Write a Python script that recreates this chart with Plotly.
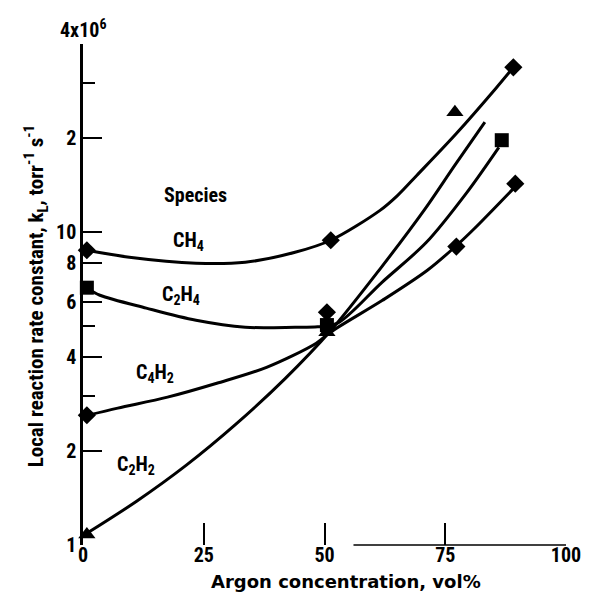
import math
import plotly.graph_objects as go

# ---- data (y in units of 1e5 torr^-1 s^-1) ----
x_ticks = [0, 25, 50, 75, 100]
y_tickvals = [1, 2, 4, 6, 8, 10, 20, 40]
y_ticktext = ["1", "2", "4", "6", "8", "10", "2", ""]
y_minor = [3, 5, 30]

ch4_curve_x = [0.8, 9.6, 23.4, 33.6, 43.9, 51.3, 61.5, 65.1, 69.1, 77.3, 85.5, 89.1]
ch4_curve_y = [8.76, 8.32, 7.96, 8.02, 8.63, 9.43, 11.75, 13.1, 15.2, 20.7, 28.9, 33.7]
ch4_pts_x = [0.8, 51.3, 89.1]
ch4_pts_y = [8.76, 9.43, 33.7]

c2h4_curve_x = [0.8, 3.5, 13.1, 23.4, 33.6, 43.9, 48.6, 52.7, 61.9, 71.1, 79.3, 86.1]
c2h4_curve_y = [6.62, 6.29, 5.72, 5.23, 4.97, 4.97, 4.99, 5.12, 6.92, 9.29, 13.3, 18.7]
c2h4_pts_x = [0.8, 50.5, 86.7]
c2h4_pts_y = [6.65, 5.05, 19.7]

c4h2_curve_x = [1.0, 7.2, 17.5, 27.7, 38.0, 48.3, 51.3, 62.0, 71.3, 77.4, 81.1, 89.7]
c4h2_curve_y = [2.60, 2.74, 2.97, 3.29, 3.70, 4.42, 4.80, 6.06, 7.56, 9.09, 10.3, 14.1]
c4h2_pts_x = [0.8, 50.5, 77.3, 89.5]
c4h2_pts_y = [2.60, 5.55, 9.0, 14.3]

c2h2_curve_x = [0.8, 11.1, 21.4, 31.6, 41.9, 51.3, 61.6, 70.6, 77.0, 83.2]
c2h2_curve_y = [1.09, 1.38, 1.80, 2.43, 3.41, 4.85, 7.67, 11.75, 16.4, 22.5]
c2h2_pts_x = [0.8, 50.5, 77.0]
c2h2_pts_y = [1.08, 4.79, 24.2]

labels = ["Species", "CH<sub>4</sub>", "C<sub>2</sub>H<sub>4</sub>", "C<sub>4</sub>H<sub>2</sub>", "C<sub>2</sub>H<sub>2</sub>"]
label_x = [23.2, 21.8, 20.3, 15.0, 10.9]
label_y = [13.2, 9.36, 6.29, 3.56, 1.80]

FONT = "Roboto Condensed, Open Sans Condensed, Roboto, sans-serif"
WIDE = "DejaVu Sans, sans-serif"
FW = "bold"

fig = go.Figure()

curves = [(ch4_curve_x, ch4_curve_y), (c2h4_curve_x, c2h4_curve_y),
          (c4h2_curve_x, c4h2_curve_y), (c2h2_curve_x, c2h2_curve_y)]
for cx, cy in curves:
    fig.add_trace(go.Scatter(x=cx, y=cy, mode="lines",
                             line=dict(color="black", width=3, shape="spline", smoothing=0.9),
                             showlegend=False, hoverinfo="skip"))

marks = [(ch4_pts_x, ch4_pts_y, "diamond", 14), (c2h4_pts_x, c2h4_pts_y, "square", 14),
         (c4h2_pts_x, c4h2_pts_y, "diamond", 14), (c2h2_pts_x, c2h2_pts_y, "triangle-up", 15)]
for mx, my, sym, sz in marks:
    fig.add_trace(go.Scatter(x=mx, y=my, mode="markers",
                             marker=dict(symbol=sym, size=sz, color="black", line=dict(width=0)),
                             showlegend=False, cliponaxis=False))

for t, lx, ly in zip(labels, label_x, label_y):
    fig.add_annotation(x=lx, y=math.log10(ly), text=t, showarrow=False,
                       font=dict(family=FONT, size=20, color="black", weight=FW))

# top y tick label
fig.add_annotation(xref="paper", x=0, y=math.log10(40), text="4x10<sup>6</sup>",
                   showarrow=False, xanchor="center", yanchor="bottom", yshift=0,
                   font=dict(family=FONT, size=20, color="black", weight=FW))

# axis titles
fig.add_annotation(xref="paper", yref="paper", x=-0.135, y=0.497, textangle=-90,
                   text="Local reaction rate constant, k<sub>L</sub>, torr<sup>-1</sup> s<sup>-1</sup>",
                   showarrow=False, font=dict(family=FONT, size=21, color="black", weight=FW))
fig.add_annotation(xref="paper", yref="paper", x=0.544, y=-0.0958, yanchor="bottom",
                   text="Argon concentration, vol%", showarrow=False, borderpad=0,
                   font=dict(family=WIDE, size=18, color="black", weight=FW))

# partial x axis line
fig.add_shape(type="line", xref="x", yref="paper", x0=56, x1=100, y0=0, y1=0,
              line=dict(color="black", width=1.5))

fig.update_xaxes(range=[0, 100], tickvals=x_ticks, ticks="inside", ticklen=22, tickwidth=2,
                 tickcolor="black", showline=False, showgrid=False, zeroline=False,
                 ticklabelstandoff=-4,
                 tickfont=dict(family=FONT, size=20, color="black", weight=FW))
fig.update_yaxes(type="log", range=[0, 1.6021], tickvals=y_tickvals, ticktext=y_ticktext,
                 ticks="inside", ticklen=19, tickwidth=2, tickcolor="black",
                 minor=dict(tickvals=y_minor, ticks="inside", ticklen=12, tickwidth=2, tickcolor="black"),
                 showline=True, linecolor="black", linewidth=2.5, showgrid=False, zeroline=False,
                 tickfont=dict(family=FONT, size=20, color="black", weight=FW))

fig.update_layout(width=593, height=593, margin=dict(l=83, r=23, t=44, b=48),
                  plot_bgcolor="white", paper_bgcolor="white")

fig.write_html("out.html")
